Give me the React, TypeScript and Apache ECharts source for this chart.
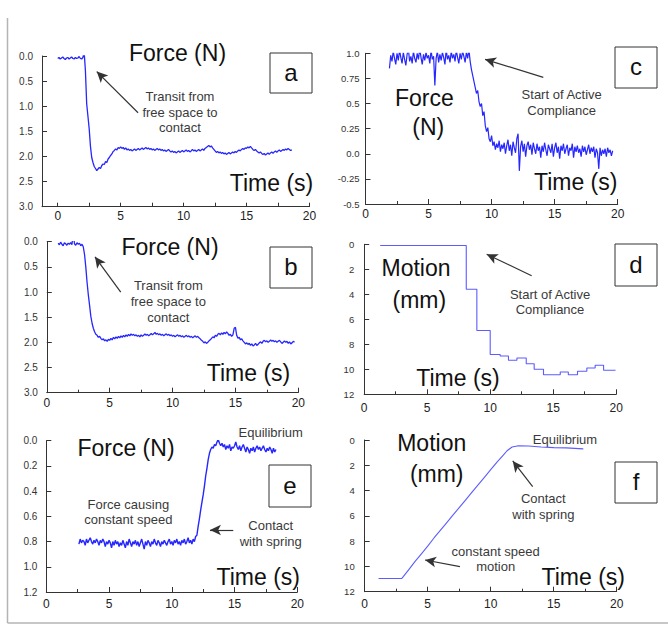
import React, { useEffect, useRef } from "react";
import * as echarts from "echarts";

// ---------- data ----------
const TIME_TICKS = [0, 2.5, 5, 7.5, 10, 12.5, 15, 17.5, 20];
const TIME_LABELS = [0, 5, 10, 15, 20];

// panel a: force (N), sampled every 0.1 s from t = 0.0
const A_START = 0.0;
const A_STEP = 0.1;
const forceA = [
  0.05, 0.03, 0.06, 0.04, 0.02, 0.05, 0.07, 0.04, 0.03, 0.06,
  0.04, 0.02, 0.05, 0.06, 0.03, 0.05, 0.04, 0.01, 0.05, 0.06,
  0.03, -0.08, 0.3, 0.95, 1.2, 1.45, 1.8, 2.02, 2.12, 2.2,
  2.24, 2.28, 2.25, 2.22, 2.24, 2.18, 2.15, 2.16, 2.1, 2.12,
  2.05, 2.02, 1.98, 1.95, 1.9, 1.88, 1.85, 1.87, 1.82, 1.84,
  1.81, 1.84, 1.82, 1.86, 1.83, 1.87, 1.85, 1.88, 1.86, 1.89,
  1.87, 1.85, 1.88, 1.86, 1.84, 1.87, 1.85, 1.83, 1.86, 1.84,
  1.82, 1.85, 1.83, 1.86, 1.84, 1.87, 1.85, 1.88, 1.86, 1.84,
  1.87, 1.85, 1.88, 1.86, 1.89, 1.87, 1.9, 1.88, 1.86, 1.89,
  1.91, 1.89, 1.92, 1.9, 1.93, 1.91, 1.89, 1.92, 1.9, 1.88,
  1.91, 1.89, 1.87, 1.9, 1.88, 1.91, 1.89, 1.86, 1.89, 1.87,
  1.9, 1.88, 1.86, 1.89, 1.87, 1.85, 1.88, 1.84, 1.82, 1.8,
  1.78, 1.81, 1.79, 1.83, 1.86, 1.89, 1.92, 1.9, 1.93, 1.91,
  1.94, 1.92, 1.95, 1.93, 1.96, 1.94, 1.92, 1.95, 1.93, 1.91,
  1.93, 1.9, 1.92, 1.89, 1.87, 1.89, 1.86, 1.84, 1.86, 1.83,
  1.84, 1.81, 1.83, 1.8, 1.83, 1.86, 1.88, 1.86, 1.89, 1.91,
  1.93, 1.91, 1.94, 1.96, 1.94, 1.97, 1.95, 1.93, 1.96, 1.93,
  1.91, 1.94, 1.91, 1.89, 1.92, 1.89, 1.87, 1.9, 1.88, 1.86,
  1.88, 1.85, 1.87, 1.84, 1.86, 1.88, 1.87,
];

// panel b: force (N), sampled every 0.1 s from t = 0.9
const B_START = 0.9;
const B_STEP = 0.1;
const forceB = [
  0.03, 0.06, 0.01, 0.05, 0.08, 0.02, 0.04, 0.07, 0.03, 0.05, 0.02,
  0.06, -0.18, 0.04, 0.07, 0.02, 0.05, 0.03, 0.08, 0.05, 0.1,
  0.25, 0.5, 0.8, 1.05, 1.26, 1.48, 1.62, 1.72, 1.79, 1.84,
  1.86, 1.9, 1.88, 1.92, 1.95, 1.93, 1.97, 1.95, 1.98, 1.94,
  1.96, 1.92, 1.95, 1.9, 1.93, 1.89, 1.92, 1.88, 1.91, 1.87,
  1.9, 1.86, 1.89, 1.85, 1.88, 1.84, 1.87, 1.83, 1.86, 1.84,
  1.87, 1.85, 1.88, 1.86, 1.89, 1.85, 1.88, 1.86, 1.83, 1.86,
  1.84, 1.87, 1.85, 1.82, 1.85, 1.83, 1.8, 1.84, 1.82, 1.85,
  1.83, 1.86, 1.84, 1.87, 1.85, 1.83, 1.86, 1.84, 1.87, 1.85,
  1.88, 1.86, 1.89, 1.87, 1.85, 1.88, 1.86, 1.89, 1.87, 1.9,
  1.88, 1.86, 1.89, 1.87, 1.9, 1.88, 1.91, 1.89, 1.87, 1.9,
  1.88, 1.91, 1.93, 1.96, 1.98, 2.01, 1.99, 2.02, 2.0, 1.97,
  1.95, 1.92, 1.89, 1.91, 1.86, 1.88, 1.84, 1.82, 1.85, 1.81,
  1.84, 1.8, 1.83, 1.79, 1.82, 1.86, 1.84, 1.88, 1.85, 1.72,
  1.7, 1.86, 1.92, 1.9, 1.95, 1.93, 1.97, 2.0, 2.03, 2.01,
  2.04, 2.02, 2.06, 2.03, 2.07, 2.05, 2.02, 2.06, 2.04, 2.01,
  1.99, 2.02, 1.98, 1.96, 1.99, 1.97, 2.0, 1.98, 1.95, 1.98,
  1.96, 1.99, 1.97, 2.0, 1.98, 1.96, 1.99, 2.02, 2.0, 1.97,
  2.0, 1.98, 2.02, 1.99, 2.03, 2.01, 1.98, 2.0,
];

// panel c: force (N), sampled every 0.1 s from t = 1.9
const C_START = 1.9;
const C_STEP = 0.1;
const forceC = [
  0.85,
  0.98, 0.92, 1.02, 0.95, 0.89, 1.0, 0.93, 1.03, 0.96, 0.9,
  1.01, 0.94, 0.88, 0.99, 1.04, 0.92, 0.97, 0.9, 1.02, 0.95,
  0.91, 1.0, 0.94, 1.05, 0.96, 0.89, 0.99, 0.93, 1.01, 0.95,
  0.98, 0.9, 1.03, 0.94, 0.97, 0.68, 0.95, 1.02, 0.91, 0.99,
  0.93, 1.01, 0.96, 0.89, 1.04, 0.94, 0.98, 0.91, 1.02, 0.95,
  0.99, 0.92, 1.03, 0.96, 0.9, 1.0, 0.94, 1.02, 0.97, 0.91,
  1.01, 0.95, 1.04, 0.92, 0.84, 0.78, 0.72, 0.66, 0.6, 0.63,
  0.52, 0.47, 0.5, 0.38, 0.42, 0.28, 0.22, 0.26, 0.15, 0.12,
  0.18, 0.08, 0.12, 0.04, 0.1, 0.06, 0.13, 0.02, 0.09, 0.05,
  0.11, 0.0, 0.08, 0.14, 0.03, 0.09, -0.02, 0.12, 0.06, 0.01,
  0.15, 0.2, -0.17, 0.07, 0.13, 0.02, 0.1, -0.03, 0.08, 0.12,
  0.04, 0.09, -0.01, 0.11, 0.05, 0.0, 0.1, 0.03, 0.07, -0.04,
  0.08, 0.02, 0.11, 0.04, -0.02, 0.09, 0.05, 0.01, 0.1, -0.03,
  0.06, 0.11, 0.01, 0.07, -0.05, 0.08, 0.03, 0.1, 0.0, 0.05,
  0.09, -0.02, 0.06, 0.03, 0.1, -0.04, 0.07, 0.02, 0.08, 0.01,
  0.05, -0.03, 0.08, 0.02, 0.07, -0.01, 0.04, 0.09, 0.0, 0.06,
  0.02, 0.07, -0.04, 0.05, 0.01, -0.15, 0.06, -0.02, 0.04, 0.0,
  0.05, -0.03, 0.06, 0.01, 0.04, -0.02, 0.03,
];

// panel d: motion (mm), step changes [time, value]
const motionD = [
  [1.27, 0.1], [8.1, 3.6], [8.94, 6.9], [10.0, 8.82], [10.79, 8.93],
  [11.45, 9.28], [12.12, 9.09], [12.86, 9.55], [13.49, 10.0], [14.23, 10.43],
  [15.56, 10.21], [16.2, 10.43], [16.93, 10.16], [17.67, 9.89], [18.33, 9.68],
  [19.0, 10.08], [19.95, 10.08],
];

// panel e: force (N), sampled every 0.1 s from t = 2.6
const E_START = 2.6;
const E_STEP = 0.1;
const forceE = [
  0.82, 0.78, 0.81, 0.79,
  0.8, 0.83, 0.78, 0.81, 0.79, 0.77, 0.8, 0.82, 0.79, 0.81,
  0.78, 0.8, 0.83, 0.79, 0.81, 0.78, 0.8, 0.84, 0.8, 0.82,
  0.79, 0.81, 0.85, 0.8, 0.83, 0.79, 0.82, 0.8, 0.84, 0.81,
  0.83, 0.79, 0.82, 0.85, 0.8, 0.83, 0.78, 0.81, 0.84, 0.8,
  0.82, 0.79, 0.83, 0.8, 0.84, 0.81, 0.78, 0.82, 0.86, 0.8,
  0.83, 0.79, 0.81, 0.84, 0.8, 0.82, 0.78, 0.81, 0.83, 0.79,
  0.81, 0.84, 0.8, 0.82, 0.79, 0.81, 0.83, 0.8, 0.78, 0.82,
  0.8, 0.83, 0.79, 0.81, 0.78, 0.82, 0.8, 0.83, 0.79, 0.81,
  0.78, 0.82, 0.8, 0.77, 0.81, 0.79, 0.82, 0.78, 0.8, 0.76,
  0.75, 0.68, 0.62, 0.55, 0.49, 0.43, 0.36, 0.28, 0.22, 0.15,
  0.1, 0.07, 0.05, 0.06, 0.03, 0.04, 0.01, -0.01, 0.02, 0.04,
  0.02, 0.05, 0.03, 0.07, 0.04, 0.06, 0.03, 0.08, 0.05, 0.06,
  0.04, 0.01, 0.05, 0.07, 0.04, 0.08, 0.05, 0.03, 0.06, 0.09,
  0.05, 0.07, 0.1, 0.06, 0.08, 0.05, 0.09, 0.06, 0.04, 0.07,
  0.05, 0.08, 0.06, 0.04, 0.07, 0.09, 0.06, 0.08, 0.05, 0.07,
  0.1, 0.06, 0.09, 0.07,
];

// panel f: motion (mm) [time, value]
const motionF = [
  [1.1, 10.95], [2.95, 10.95], [3.5, 10.25], [4.0, 9.6], [4.5, 9.0],
  [5.0, 8.4], [5.5, 7.75], [6.0, 7.15], [6.5, 6.55], [7.0, 5.95],
  [7.5, 5.35], [8.0, 4.75], [8.5, 4.15], [9.0, 3.55], [9.5, 2.95],
  [10.0, 2.35], [10.5, 1.75], [11.0, 1.2], [11.3, 0.85], [11.7, 0.55],
  [12.2, 0.45], [13.0, 0.48], [14.0, 0.55], [15.0, 0.6], [16.0, 0.62],
  [17.0, 0.68], [17.35, 0.7],
];

// annotation arrows in data coordinates [fromT, fromV, toT, toV]
const arrowA = [6.38, 1.13, 3.1, 0.31];
const arrowB = [5.88, 1.0, 3.83, 0.3];
const arrowC = [14.1, 0.76, 9.48, 0.94];
const arrowD = [13.29, 2.51, 9.72, 0.8];
const arrowE = [14.9, 0.708, 13.04, 0.708];
const arrowF1 = [13.33, 3.69, 11.75, 1.66];
const arrowF2 = [7.56, 10.02, 4.79, 9.49];

// ---------- helpers ----------
const FONT = "Liberation Sans, Arial, sans-serif";
const AXIS = "#333";
const LINE = "#2626ff";
const LINE_LIGHT = "#5c5cff";

function sampled(start: number, step: number, vals: number[]) {
  return vals.map((v, i) => [Math.round((start + i * step) * 100) / 100, v]);
}

function arrowLine(a: number[]) {
  return {
    silent: true,
    symbol: ["none", "arrow"],
    symbolSize: [8, 11],
    label: { show: false },
    lineStyle: { color: "#333", width: 1.2, type: "solid" },
    emphasis: { disabled: true },
    data: [[{ coord: [a[0], a[1]] }, { coord: [a[2], a[3]] }]],
  };
}

function xAxis(grid: number, min: number, margin: number, custom: boolean) {
  const base: any = {
    type: "value",
    gridIndex: grid,
    min,
    max: 20,
    splitLine: { show: false },
    axisLine: { onZero: false, lineStyle: { color: AXIS, width: 1 } },
    axisLabel: { color: "#222", fontSize: 12, margin, fontFamily: FONT },
    axisTick: { inside: true, length: 5, lineStyle: { color: AXIS } },
  };
  if (custom) {
    base.axisTick.customValues = TIME_TICKS;
    base.axisTick.length = 4;
    base.axisLabel.customValues = TIME_LABELS;
  } else {
    base.interval = 5;
    base.minorTick = { show: true, splitNumber: 2, length: 3, lineStyle: { color: AXIS } };
  }
  return base;
}

function yAxis(
  grid: number,
  min: number,
  max: number,
  interval: number,
  inverse: boolean,
  margin: number,
  fontSize: number,
  fmt: (v: number) => string
) {
  return {
    type: "value",
    gridIndex: grid,
    min,
    max,
    interval,
    inverse,
    splitLine: { show: false },
    axisLine: { show: true, onZero: false, lineStyle: { color: AXIS, width: 1 } },
    axisTick: { show: true, inside: true, length: 5, lineStyle: { color: AXIS } },
    axisLabel: { color: "#333", fontSize, margin, fontFamily: FONT, formatter: fmt },
  };
}

function big(text: string, x: number, y: number) {
  return {
    type: "text",
    x,
    y,
    style: {
      text,
      fill: "#111",
      font: `23px ${FONT}`,
      align: "center",
      verticalAlign: "middle",
    },
  };
}

function note(text: string, x: number, y: number, lh: number) {
  return {
    type: "text",
    x,
    y,
    style: {
      text,
      fill: "#3a3a3a",
      font: `13px ${FONT}`,
      align: "center",
      verticalAlign: "middle",
      lineHeight: lh,
    },
  };
}

function box(letter: string, x: number, y: number, w: number, h: number) {
  return [
    {
      type: "rect",
      shape: { x, y, width: w, height: h },
      style: { fill: "#fff", stroke: "#333", lineWidth: 1 },
    },
    {
      type: "text",
      x: x + w / 2,
      y: y + h / 2 - 1,
      style: {
        text: letter,
        fill: "#111",
        font: `24px ${FONT}`,
        align: "center",
        verticalAlign: "middle",
      },
    },
  ];
}

const one = (v: number) => v.toFixed(1);
const intFmt = (v: number) => String(Math.round(v));
const cFmt = (v: number) => (Number.isInteger(v) ? v.toFixed(1) : String(v));

export default function App() {
  const ref = useRef<HTMLDivElement>(null);

  useEffect(() => {
    if (!ref.current) return;
    const chart = echarts.init(ref.current, null, { renderer: "svg" });

    const lineSeries = (idx: number, data: any[], color: string, width: number, arrows: any, step?: string) => ({
      type: "line",
      xAxisIndex: idx,
      yAxisIndex: idx,
      data,
      showSymbol: false,
      symbol: "none",
      step: step || false,
      lineStyle: { color, width },
      itemStyle: { color },
      silent: true,
      markLine: arrows,
    });

    const option: any = {
      animation: false,
      backgroundColor: "#fff",
      textStyle: { fontFamily: FONT },
      grid: [
        { left: 42, top: 56, width: 267.5, height: 150.7 },
        { left: 46.8, top: 241.7, width: 251.5, height: 151 },
        { left: 365.5, top: 53.3, width: 252.2, height: 150.7 },
        { left: 364.2, top: 244.3, width: 252, height: 150 },
        { left: 46.3, top: 440.7, width: 251, height: 151.3 },
        { left: 364.7, top: 440, width: 252, height: 151.7 },
      ],
      xAxis: [
        xAxis(0, -1.25, 3, true),
        xAxis(1, 0, 4, false),
        xAxis(2, 0, 4, false),
        xAxis(3, 0, 8, false),
        xAxis(4, 0, 6, false),
        xAxis(5, 0, 6, false),
      ],
      yAxis: [
        yAxis(0, 0, 3, 0.5, true, 9, 10, one),
        yAxis(1, 0, 3, 0.5, true, 9, 10, one),
        yAxis(2, -0.5, 1, 0.25, false, 6, 9.5, cFmt),
        yAxis(3, 0, 12, 2, true, 10, 9.5, intFmt),
        yAxis(4, 0, 1.2, 0.2, true, 9, 10, one),
        yAxis(5, 0, 12, 2, true, 10, 9.5, intFmt),
      ],
      series: [
        lineSeries(0, sampled(A_START, A_STEP, forceA), LINE, 1.3, arrowLine(arrowA)),
        lineSeries(1, sampled(B_START, B_STEP, forceB), LINE, 1.3, arrowLine(arrowB)),
        lineSeries(2, sampled(C_START, C_STEP, forceC), LINE, 1.2, arrowLine(arrowC)),
        lineSeries(3, motionD, LINE_LIGHT, 1.1, arrowLine(arrowD), "end"),
        lineSeries(4, sampled(E_START, E_STEP, forceE), LINE, 1.4, arrowLine(arrowE)),
        lineSeries(5, motionF, LINE_LIGHT, 1.1, {
          ...arrowLine(arrowF1),
          data: [
            [{ coord: [arrowF1[0], arrowF1[1]] }, { coord: [arrowF1[2], arrowF1[3]] }],
            [{ coord: [arrowF2[0], arrowF2[1]] }, { coord: [arrowF2[2], arrowF2[3]] }],
          ],
        }),
      ],
      graphic: [
        // outer frame
        { type: "line", shape: { x1: 7.5, y1: 18, x2: 7.5, y2: 623 }, style: { stroke: "#b4b4b4", lineWidth: 1.5 } },
        { type: "line", shape: { x1: 7.5, y1: 623, x2: 668, y2: 623 }, style: { stroke: "#b4b4b4", lineWidth: 1.5 } },
        // panel a
        big("Force (N)", 177.5, 53),
        big("Time (s)", 271.5, 183),
        note("Transit from\nfree space to\ncontact", 180, 112, 15.5),
        ...box("a", 270, 53, 42, 40),
        // panel b
        big("Force (N)", 170, 247),
        big("Time (s)", 248.5, 373.3),
        note("Transit from\nfree space to\ncontact", 168.3, 301, 16),
        ...box("b", 270, 247, 42, 41),
        // panel c
        big("Force", 424.3, 98.3),
        big("(N)", 428.3, 126.7),
        big("Time (s)", 575.7, 182.3),
        note("Start of Active\nCompliance", 561.7, 102, 16),
        ...box("c", 615, 47, 42, 41),
        // panel d
        big("Motion", 416, 268.3),
        big("(mm)", 419.3, 300),
        big("Time (s)", 458, 378.3),
        note("Start of Active\nCompliance", 550, 302, 15),
        ...box("d", 615, 244, 42, 42),
        // panel e
        big("Force (N)", 126, 448.3),
        big("Time (s)", 258.3, 576.7),
        note("Equilibrium", 270.7, 432.3, 15),
        note("Force causing\nconstant speed", 128.3, 512, 15.7),
        note("Contact\nwith spring", 270.7, 533.7, 16),
        ...box("e", 269, 465, 42, 42),
        // panel f
        big("Motion", 431.7, 443.3),
        big("(mm)", 436.7, 474.3),
        big("Time (s)", 583.3, 576.7),
        note("Equilibrium", 565, 439, 15),
        note("Contact\nwith spring", 543.3, 506.3, 16),
        note("constant speed\nmotion", 495.7, 559.2, 15),
        ...box("f", 615, 462, 42, 41),
      ],
    };

    chart.setOption(option);
    return () => chart.dispose();
  }, []);

  return (
    <div
      ref={ref}
      style={{ position: "absolute", left: 0, top: 0, width: 668, height: 629, background: "#fff" }}
    />
  );
}
